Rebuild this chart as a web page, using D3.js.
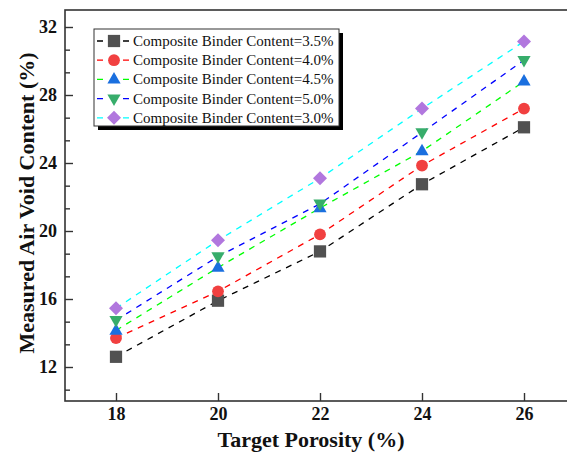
<!DOCTYPE html>
<html>
<head>
<meta charset="utf-8">
<script src="https://cdn.jsdelivr.net/npm/d3@7"></script>
<style>
  html, body { margin: 0; padding: 0; background: #fff; }
  svg { display: block; }
</style>
</head>
<body>
<svg id="chart" width="567" height="456"></svg>
<script>
// ---- data ----
const porosity = [18, 20, 22, 24, 26];
const binder35 = [12.6, 15.9, 18.8, 22.75, 26.1];
const binder40 = [13.7, 16.45, 19.8, 23.85, 27.2];
const binder45 = [14.15, 17.85, 21.35, 24.7, 28.8];
const binder50 = [14.75, 18.5, 21.6, 25.8, 30.05];
const binder30 = [15.45, 19.45, 23.1, 27.2, 31.15];
const seriesNames = [
  "Composite Binder Content=3.5%",
  "Composite Binder Content=4.0%",
  "Composite Binder Content=4.5%",
  "Composite Binder Content=5.0%",
  "Composite Binder Content=3.0%"
];
const xTicks = [18, 20, 22, 24, 26];
const yTicks = [12, 16, 20, 24, 28, 32];

// ---- styles ----
const lineColors = ["#000000", "#ff0000", "#00ff00", "#0000ff", "#00ffff"];
const markerColors = ["#515151", "#f14040", "#1a6fdf", "#37ad6b", "#b177de"];
const markerTypes = ["square", "circle", "triUp", "triDown", "diamond"];
const seriesValues = [binder35, binder40, binder45, binder50, binder30];

const svg = d3.select("#chart");
const mLeft = 65, mTop = 10, mBottom = 401;
const x = d3.scaleLinear().domain([17, 27]).range([mLeft, 575]);
const y = d3.scaleLinear().domain([10, 33]).range([mBottom, mTop]);

function markerPath(type) {
  switch (type) {
    case "square": return d3.symbol(d3.symbolSquare, 150)();
    case "circle": return d3.symbol(d3.symbolCircle, 110)();
    case "triUp": return "M0,-7.3L6.6,4.2L-6.6,4.2Z";
    case "triDown": return "M0,7.3L6.6,-4.2L-6.6,-4.2Z";
    case "diamond": return "M0,-7L7,0L0,7L-7,0Z";
  }
}

const font = "'Liberation Serif', 'Times New Roman', serif";

// frame
svg.append("rect")
  .attr("x", mLeft).attr("y", mTop)
  .attr("width", 600).attr("height", mBottom - mTop)
  .attr("fill", "none").attr("stroke", "#333").attr("stroke-width", 1.6);

// x axis ticks (inward)
const gx = svg.append("g").attr("transform", `translate(0,${mBottom})`)
  .call(d3.axisBottom(x).tickValues(xTicks).tickSize(-8).tickPadding(6).tickFormat(d3.format("d")));
gx.select(".domain").remove();
gx.selectAll("line").attr("stroke", "#333").attr("stroke-width", 1.4);
gx.selectAll("text").attr("font-family", font).attr("font-weight", "bold")
  .attr("font-size", 18).attr("fill", "#111");

// y axis ticks (inward)
const minorY = [];
yTicks.forEach(t => { [t - 4/3, t - 8/3].forEach(m => { if (m > 10) minorY.push(m); }); });
const gy = svg.append("g").attr("transform", `translate(${mLeft},0)`)
  .call(d3.axisLeft(y).tickValues(yTicks).tickSize(-8).tickPadding(8).tickFormat(d3.format("d")));
gy.select(".domain").remove();
gy.selectAll("line").attr("stroke", "#333").attr("stroke-width", 1.4);
gy.selectAll("text").attr("font-family", font).attr("font-weight", "bold")
  .attr("font-size", 18).attr("fill", "#111");
const gym = svg.append("g").attr("transform", `translate(${mLeft},0)`)
  .call(d3.axisLeft(y).tickValues(minorY).tickSize(-5).tickFormat(""));
gym.select(".domain").remove();
gym.selectAll("line").attr("stroke", "#333").attr("stroke-width", 1.4);

// axis titles
svg.append("text").attr("x", 311).attr("y", 447).attr("text-anchor", "middle")
  .attr("font-family", font).attr("font-weight", "bold").attr("font-size", 22)
  .attr("fill", "#111").text("Target Porosity (%)");
svg.append("text").attr("transform", `translate(34,203) rotate(-90)`)
  .attr("text-anchor", "middle")
  .attr("font-family", font).attr("font-weight", "bold").attr("font-size", 22)
  .attr("fill", "#111").text("Measured Air Void Content (%)");

// lines
const line = d3.line().x(d => x(d[0])).y(d => y(d[1]));
seriesValues.forEach((vals, i) => {
  svg.append("path")
    .datum(porosity.map((p, j) => [p, vals[j]]))
    .attr("d", line)
    .attr("fill", "none")
    .attr("stroke", lineColors[i])
    .attr("stroke-width", 1.3)
    .attr("stroke-dasharray", "6,6");
});
// markers
seriesValues.forEach((vals, i) => {
  svg.append("g").selectAll("path")
    .data(porosity.map((p, j) => [p, vals[j]]))
    .join("path")
    .attr("transform", d => `translate(${x(d[0])},${y(d[1])})`)
    .attr("d", markerPath(markerTypes[i]))
    .attr("fill", markerColors[i]);
});

// legend
const lg = svg.append("g");
const lx = 94, ly = 29, lw = 245, lh = 97;
lg.append("rect").attr("x", lx + 4).attr("y", ly + 4).attr("width", lw).attr("height", lh).attr("fill", "#000");
lg.append("rect").attr("x", lx).attr("y", ly).attr("width", lw).attr("height", lh)
  .attr("fill", "#fff").attr("stroke", "#333").attr("stroke-width", 1);
seriesNames.forEach((name, i) => {
  const ry = ly + 12 + i * 19.2;
  lg.append("line").attr("x1", lx + 3).attr("x2", lx + 35).attr("y1", ry).attr("y2", ry)
    .attr("stroke", lineColors[i]).attr("stroke-width", 1.3).attr("stroke-dasharray", "6,20");
  lg.append("path").attr("transform", `translate(${lx + 20},${ry})`)
    .attr("d", markerPath(markerTypes[i])).attr("fill", markerColors[i]);
  lg.append("text").attr("x", lx + 39).attr("y", ry + 5)
    .attr("font-family", font).attr("font-size", 15).attr("fill", "#111").text(name);
});
</script>
</body>
</html>
